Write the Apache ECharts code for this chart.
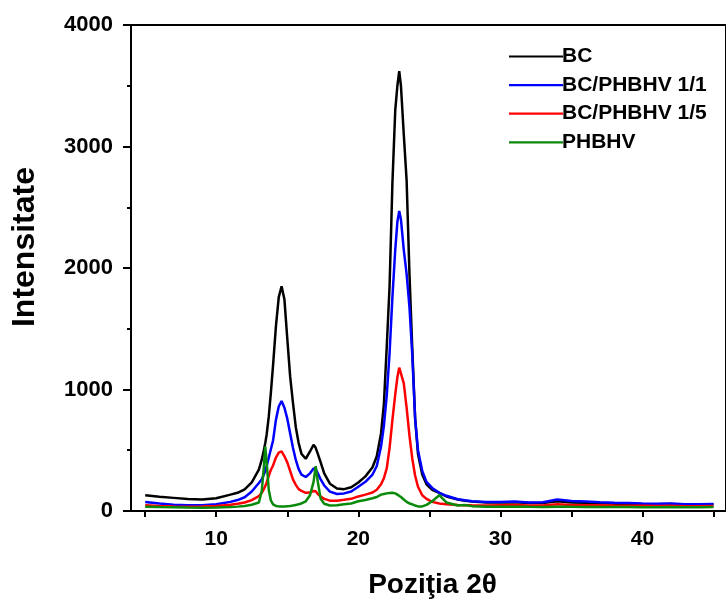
<!DOCTYPE html>
<html>
<head>
<meta charset="utf-8">
<script src="https://cdn.jsdelivr.net/npm/echarts@6/dist/echarts.min.js"></script>
<style>html,body{margin:0;padding:0;background:#fff;}#c{width:726px;height:604px;}</style>
</head>
<body>
<div id="c"></div>
<script>
// 2θ positions (shared grid)
const twoTheta = [5,6,7,8,9,10,11,11.5,12,12.5,13,13.2,13.35,13.45,13.55,13.7,13.85,14,14.2,14.4,14.6,14.8,15,15.2,15.4,15.6,15.8,16,16.3,16.6,16.85,17,17.15,17.35,17.6,18,18.5,19,19.5,20,20.5,21,21.3,21.6,21.8,22,22.2,22.4,22.6,22.75,22.88,23,23.2,23.4,23.6,23.8,24,24.2,24.5,24.8,25.2,25.7,26.2,27,27.5,28,29,30,31,32,33,34,35,36,37,38,39,40,41,42,43,44,45];

const seriesNames = ['BC','BC/PHBHV 1/1','BC/PHBHV 1/5','PHBHV'];

const bcValues = [130,118,108,98,95,105,135,150,178,235,340,420,500,560,630,780,980,1200,1520,1760,1850,1740,1420,1110,890,690,560,470,430,490,545,520,470,400,310,225,185,180,195,235,285,360,450,640,880,1350,1850,2700,3300,3500,3620,3500,3100,2720,1950,1330,760,470,300,220,175,150,120,95,85,78,70,70,72,65,65,80,70,68,65,60,58,55,55,58,52,50,55];

const bc11Values = [75,62,52,47,48,55,75,90,113,160,230,260,300,330,370,440,510,580,750,860,905,850,760,640,520,420,345,300,280,310,350,345,310,260,210,160,140,145,160,200,240,300,370,530,700,950,1300,1760,2150,2380,2470,2400,2150,1950,1680,1280,760,500,330,240,190,150,125,97,88,80,75,75,78,70,72,95,82,78,72,68,65,62,60,62,56,55,58];

const bc15Values = [47,42,38,36,38,42,52,60,70,90,123,150,180,205,235,290,340,375,440,480,490,450,400,330,260,215,180,165,150,152,165,162,140,118,100,85,85,92,100,120,135,152,175,220,270,350,520,750,960,1100,1180,1190,1050,850,620,430,290,200,130,100,75,62,55,50,48,47,46,48,50,46,45,55,50,48,47,45,44,43,42,44,40,40,42];

const phbhvValues = [36,32,30,28,27,28,32,36,42,52,70,160,360,530,400,170,85,55,42,38,38,38,40,42,45,50,55,62,80,130,240,370,240,100,60,45,48,55,62,80,90,105,115,135,140,145,148,150,145,135,125,115,95,75,62,55,45,38,38,50,80,130,70,45,50,40,35,35,36,34,33,36,34,33,33,32,32,31,31,32,30,30,32];

const xTicks = [5,10,15,20,25,30,35,40,45];
const xTickLabels = [10,20,30,40];

const colors = ['#000000','#0000ff','#ff0000','#0a8a0a'];
const allValues = [bcValues, bc11Values, bc15Values, phbhvValues];

const font = 'Liberation Sans, Arial, sans-serif';
const chart = echarts.init(document.getElementById('c'));
chart.setOption({
  animation: false,
  backgroundColor: '#fff',
  grid: {left: 131, right: -3, top: 25, bottom: 92.3, containLabel: false,
         show: true, borderColor: '#000', borderWidth: 2, backgroundColor: 'transparent'},
  graphic: [{
    type: 'text', rotation: Math.PI / 2, x: 25, y: 247,
    style: {text: 'Intensitate', fontFamily: font, fontWeight: 'bold', fontSize: 32, fill: '#000',
            textAlign: 'center', textVerticalAlign: 'middle'}
  }],
  legend: {
    orient: 'vertical', left: 504, top: 41,
    itemWidth: 54, itemHeight: 12, itemGap: 7.6,
    icon: 'path://M0,5 L50,5 L50,7 L0,7 Z',
    data: seriesNames.map((n, i) => ({name: n, itemStyle: {color: colors[i]}})),
    textStyle: {fontFamily: font, fontWeight: 'bold', fontSize: 21, color: '#000', padding: [0,0,0,-6]}
  },
  xAxis: {
    type: 'value', min: 4, max: 45.88, position: 'bottom',
    name: 'Poziţia 2θ', nameLocation: 'middle', nameGap: 60,
    nameTextStyle: {fontFamily: font, fontWeight: 'bold', fontSize: 28, color: '#000', padding: [0,0,0,8]},
    axisLine: {show: true, onZero: false, lineStyle: {color: '#000', width: 2}},
    axisTick: {show: true, customValues: xTicks, length: 6, inside: false, lineStyle: {color: '#000', width: 2}},
    axisLabel: {customValues: xTickLabels, margin: 18, fontFamily: font, fontWeight: 'bold', fontSize: 21, color: '#000'},
    splitLine: {show: false}
  },
  yAxis: {
    type: 'value', min: 0, max: 4000, interval: 1000,
    axisLine: {show: true, onZero: false, lineStyle: {color: '#000', width: 2}},
    axisTick: {show: true, length: 8, lineStyle: {color: '#000', width: 2}},
    minorTick: {show: true, splitNumber: 2, length: 4, lineStyle: {color: '#000', width: 2}},
    axisLabel: {margin: 18, fontFamily: font, fontWeight: 'bold', fontSize: 22, color: '#000',
                formatter: v => String(v)},
    splitLine: {show: false}
  },
  series: seriesNames.map((n, i) => ({
    name: n, type: 'line', symbol: 'none', smooth: false,
    lineStyle: {color: colors[i], width: 2.5},
    itemStyle: {color: colors[i]},
    data: twoTheta.map((x, k) => [x, allValues[i][k]])
  }))
});
</script>
</body>
</html>
